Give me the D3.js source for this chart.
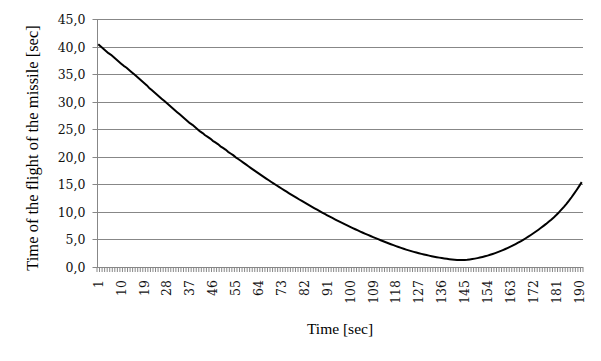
<!DOCTYPE html>
<html>
<head>
<meta charset="utf-8">
<script src="https://cdn.jsdelivr.net/npm/d3@7"></script>
<style>
  html, body { margin: 0; padding: 0; background: #fff; }
  svg { display: block; }
</style>
</head>
<body>
<svg id="chart" width="601" height="361"></svg>
<script>
// ---- data ----
const categories = d3.range(1, 192); // time steps 1..191 [sec]
const flightTime = [
  40.4, 40.0, 39.6, 39.2, 38.8, 38.5, 38.1, 37.7, 37.3, 36.9,
  36.5, 36.2, 35.8, 35.4, 35.0, 34.6, 34.2, 33.8, 33.4, 33.0,
  32.5, 32.1, 31.7, 31.3, 30.9, 30.5, 30.1, 29.7, 29.3, 28.9,
  28.5, 28.1, 27.7, 27.3, 26.9, 26.5, 26.1, 25.8, 25.4, 25.0,
  24.6, 24.3, 23.9, 23.6, 23.3, 22.9, 22.6, 22.3, 21.9, 21.6,
  21.3, 20.9, 20.6, 20.3, 19.9, 19.6, 19.27, 18.94, 18.61, 18.28,
  17.95, 17.63, 17.31, 16.99, 16.67, 16.36, 16.05, 15.74, 15.43, 15.13,
  14.83, 14.53, 14.24, 13.95, 13.66, 13.37, 13.09, 12.81, 12.53, 12.25,
  11.98, 11.71, 11.44, 11.17, 10.91, 10.65, 10.39, 10.13, 9.88, 9.63,
  9.38, 9.14, 8.90, 8.66, 8.42, 8.19, 7.96, 7.73, 7.51, 7.29,
  7.07, 6.85, 6.64, 6.43, 6.22, 6.02, 5.82, 5.62, 5.43, 5.24,
  5.05, 4.86, 4.67, 4.49, 4.31, 4.13, 3.96, 3.79, 3.63, 3.47,
  3.31, 3.16, 3.02, 2.88, 2.75, 2.62, 2.50, 2.38, 2.27, 2.16,
  2.06, 1.96, 1.87, 1.78, 1.70, 1.62, 1.55, 1.48, 1.42, 1.37,
  1.33, 1.29, 1.26, 1.25, 1.27, 1.31, 1.37, 1.44, 1.52, 1.61,
  1.71, 1.82, 1.94, 2.07, 2.21, 2.36, 2.52, 2.69, 2.87, 3.06,
  3.26, 3.47, 3.69, 3.92, 4.16, 4.41, 4.67, 4.94, 5.22, 5.51,
  5.81, 6.12, 6.44, 6.77, 7.11, 7.46, 7.82, 8.20, 8.59, 9.00,
  9.43, 9.90, 10.40, 10.92, 11.47, 12.05, 12.66, 13.30, 13.97, 14.67,
  15.4
];
const xTickLabels = [1, 10, 19, 28, 37, 46, 55, 64, 73, 82, 91, 100, 109, 118, 127, 136, 145, 154, 163, 172, 181, 190];
const yTicks = [0, 5, 10, 15, 20, 25, 30, 35, 40, 45];
const xTitle = "Time [sec]";
const yTitle = "Time of the flight of the missile [sec]";

// ---- layout ----
const svg = d3.select("#chart");
const plotL = 97, plotR = 583, plotT = 19, plotB = 267;
const gridColor = "#878787";

const x = d3.scaleBand().domain(categories).range([plotL, plotR]).padding(0);
const y = d3.scaleLinear().domain([0, 45]).range([plotB, plotT]);

// gridlines
svg.append("g").selectAll("line")
  .data(yTicks.filter(d => d > 0))
  .join("line")
  .attr("x1", plotL).attr("x2", plotR)
  .attr("y1", d => Math.round(y(d)) + 0.5).attr("y2", d => Math.round(y(d)) + 0.5)
  .attr("stroke", gridColor).attr("stroke-width", 1);

// y axis
const yAxis = d3.axisLeft(y).tickValues(yTicks).tickSize(5).tickPadding(7)
  .tickFormat(d => d.toFixed(1).replace(".", ","));
const gy = svg.append("g").attr("transform", `translate(${plotL + 0.5},0)`).call(yAxis);
gy.selectAll(".tick").attr("transform", d => `translate(0,${Math.round(y(d)) + 0.5})`);
gy.select(".domain").attr("stroke", gridColor).attr("d", `M0,${plotT}V${plotB + 0.5}`);
gy.selectAll(".tick line").attr("stroke", gridColor);
gy.selectAll(".tick text")
  .attr("font-family", "'DejaVu Serif', serif").attr("font-size", "12.5px").attr("fill", "#111");

// x axis line
svg.append("line")
  .attr("x1", plotL).attr("x2", plotR)
  .attr("y1", plotB + 0.5).attr("y2", plotB + 0.5)
  .attr("stroke", gridColor);

// x category boundary ticks
const boundaries = categories.map(c => x(c)).concat([x(categories[categories.length - 1]) + x.bandwidth()]);
svg.append("g").selectAll("line")
  .data(boundaries)
  .join("line")
  .attr("x1", d => d).attr("x2", d => d)
  .attr("y1", plotB).attr("y2", plotB + 5)
  .attr("stroke", gridColor).attr("stroke-width", 1);

// x tick labels (rotated)
svg.append("g").selectAll("text")
  .data(xTickLabels)
  .join("text")
  .attr("transform", d => `translate(${x(d) + x.bandwidth() / 2},280) rotate(-90)`)
  .attr("text-anchor", "end")
  .attr("dy", "0.36em")
  .attr("font-family", "'DejaVu Serif', serif")
  .attr("font-size", "12.5px")
  .attr("fill", "#111")
  .text(d => d);

// line
const line = d3.line()
  .x((d, i) => x(categories[i]) + x.bandwidth() / 2)
  .y(d => y(d));
svg.append("path")
  .datum(flightTime)
  .attr("d", line)
  .attr("fill", "none")
  .attr("stroke", "#000")
  .attr("stroke-width", 2)
  .attr("stroke-linejoin", "round");

// titles
svg.append("text")
  .attr("x", (plotL + plotR) / 2).attr("y", 334)
  .attr("text-anchor", "middle")
  .attr("font-family", "'Liberation Serif', serif").attr("font-size", "15.5px")
  .attr("fill", "#000")
  .text(xTitle);

svg.append("text")
  .attr("transform", `translate(38,${(plotT + plotB) / 2 + 5}) rotate(-90)`)
  .attr("text-anchor", "middle")
  .attr("font-family", "'Liberation Serif', serif").attr("font-size", "16.5px")
  .attr("fill", "#000")
  .text(yTitle);
</script>
</body>
</html>
